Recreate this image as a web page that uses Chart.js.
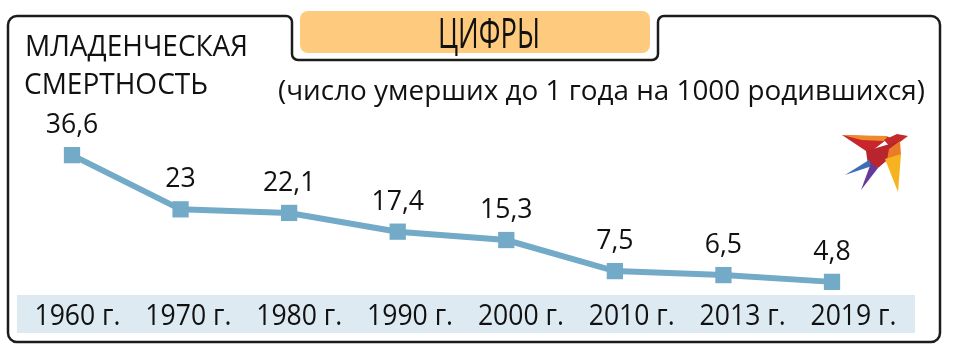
<!DOCTYPE html>
<html>
<head>
<meta charset="utf-8">
<script src="https://cdn.jsdelivr.net/npm/chart.js@4.4.1/dist/chart.umd.min.js"></script>
<style>
  html, body { margin: 0; padding: 0; background: #fff; }
  canvas { display: block; }
</style>
</head>
<body>
<canvas id="chart" width="960" height="352"></canvas>
<script>
// data
const years = ['1960 г.', '1970 г.', '1980 г.', '1990 г.', '2000 г.', '2010 г.', '2013 г.', '2019 г.'];
const deaths = [36.6, 23, 22.1, 17.4, 15.3, 7.5, 6.5, 4.8];
const yMin = 0;
const yMax = 40;

const FONT = '"Open Sans", "Noto Sans", sans-serif';
const LINE_COLOR = '#72aac8';

// text squeezed horizontally, to look like the narrow original face
function drawText(ctx, text, x, y, size, opts) {
    opts = opts || {};
    ctx.save();
    ctx.font = size + 'px ' + FONT;
    ctx.textAlign = 'left';
    ctx.textBaseline = 'alphabetic';
    const w = ctx.measureText(text).width;
    const sx = opts.width ? opts.width / w : (opts.sx || 1);
    const real = w * sx;
    let left = x;
    if (opts.align === 'center') left = x - real / 2;
    if (opts.align === 'right') left = x - real;
    ctx.translate(left, y);
    ctx.scale(sx, 1);
    ctx.fillStyle = opts.color || '#111';
    ctx.fillText(text, 0, 0);
    ctx.restore();
}

function roundRect(ctx, x, y, w, h, r) {
    ctx.beginPath();
    ctx.moveTo(x + r, y);
    ctx.arcTo(x + w, y, x + w, y + h, r);
    ctx.arcTo(x + w, y + h, x, y + h, r);
    ctx.arcTo(x, y + h, x, y, r);
    ctx.arcTo(x, y, x + w, y, r);
    ctx.closePath();
}

function poly(ctx, pts, color) {
    ctx.beginPath();
    ctx.moveTo(pts[0][0], pts[0][1]);
    for (let i = 1; i < pts.length; i++) ctx.lineTo(pts[i][0], pts[i][1]);
    ctx.closePath();
    ctx.fillStyle = color;
    ctx.fill();
}

const decorPlugin = {
    id: 'decor',
    beforeDraw(chart) {
        const ctx = chart.ctx;
        ctx.save();
        ctx.fillStyle = '#fff';
        ctx.fillRect(0, 0, chart.width, chart.height);

        // frame with a tab dip under the header
        const L = 8, T = 16, R = 940, B = 342, r = 9, r2 = 6;
        const tl = 292, tr = 658, tb = 60;
        ctx.beginPath();
        ctx.moveTo(L, T + r);
        ctx.arcTo(L, T, L + r, T, r);
        ctx.arcTo(tl, T, tl, T + r2, r2);
        ctx.arcTo(tl, tb, tl + r2, tb, r2);
        ctx.arcTo(tr, tb, tr, tb - r2, r2);
        ctx.arcTo(tr, T, tr + r2, T, r2);
        ctx.arcTo(R, T, R, T + r, r);
        ctx.arcTo(R, B, R - r, B, r);
        ctx.arcTo(L, B, L, B - r, r);
        ctx.closePath();
        ctx.lineWidth = 2.5;
        ctx.strokeStyle = '#1c1c1c';
        ctx.stroke();

        // header box
        roundRect(ctx, 300, 11, 350, 42, 8);
        ctx.fillStyle = '#fecb7e';
        ctx.fill();

        // band behind the year labels
        ctx.fillStyle = '#ddeaf2';
        ctx.fillRect(17, 295, 898, 38);

        // bird logo (swallow)
        poly(ctx, [[842, 135], [890, 137], [869, 153]], '#c9262b');
        poly(ctx, [[842, 135], [888, 136], [884, 141], [862, 140]], '#ef8a2c');
        poly(ctx, [[884, 140], [897, 134], [908, 136], [900, 142], [891, 148]], '#c42a2a');
        poly(ctx, [[866, 151], [900, 141], [892, 156], [878, 168], [868, 165]], '#b8252c');
        poly(ctx, [[889, 149], [900, 141], [901, 155], [887, 160]], '#ec7b27');
        poly(ctx, [[885, 159], [901, 154], [898, 192]], '#f6b21f');
        poly(ctx, [[845, 175], [869, 160], [872, 166]], '#3e6eb6');
        poly(ctx, [[861, 190], [871, 163], [878, 168]], '#67399a');
        ctx.restore();
    },
    afterDatasetsDraw(chart) {
        const ctx = chart.ctx;
        const xs = chart.scales.x;
        const meta = chart.getDatasetMeta(0);

        // header and titles
        drawText(ctx, 'ЦИФРЫ', 489, 48, 42, { align: 'center', width: 102 });
        drawText(ctx, 'МЛАДЕНЧЕСКАЯ', 25, 56, 30, { width: 223 });
        drawText(ctx, 'СМЕРТНОСТЬ', 24, 94, 30, { width: 184 });
        drawText(ctx, '(число умерших до 1 года на 1000 родившихся)', 278, 100, 27, { width: 647 });

        // value labels above the points
        meta.data.forEach(function (pt, i) {
            const txt = deaths[i].toLocaleString('ru-RU');
            drawText(ctx, txt, pt.x, pt.y - 22, 28, { align: 'center', sx: 0.95 });
        });

        // year labels in the band (spaced a little wider than the points)
        years.forEach(function (label, i) {
            const px = xs.getPixelForValue(i);
            drawText(ctx, label, px * 1.021 + 4, 325, 29, { align: 'center', width: 86 });
        });
    }
};

const config = {
    type: 'line',
    data: {
        labels: years,
        datasets: [{
            data: deaths,
            borderColor: LINE_COLOR,
            backgroundColor: LINE_COLOR,
            borderWidth: 6,
            tension: 0,
            pointStyle: 'rect',
            pointRadius: 11.5,
            pointBorderWidth: 0,
            pointBackgroundColor: LINE_COLOR,
            pointHoverRadius: 11.5,
            clip: false
        }]
    },
    options: {
        responsive: false,
        animation: false,
        devicePixelRatio: 1,
        layout: {
            padding: { left: 72, right: 128, top: 141.6, bottom: 51 }
        },
        scales: {
            x: { type: 'category', display: false, offset: false },
            y: { display: false, min: yMin, max: yMax }
        },
        plugins: {
            legend: { display: false },
            tooltip: { enabled: false }
        }
    },
    plugins: [decorPlugin]
};

new Chart(document.getElementById('chart'), config);
</script>
</body>
</html>
